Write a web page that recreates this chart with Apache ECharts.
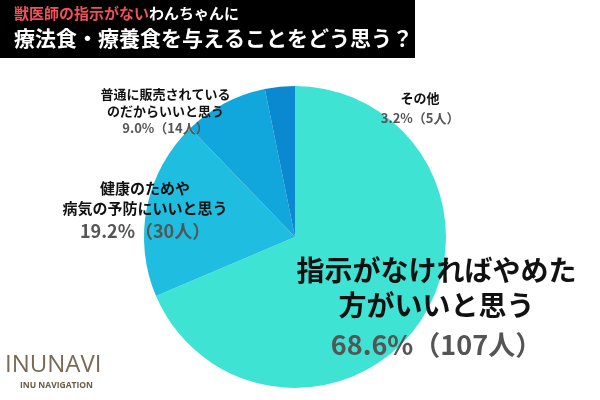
<!DOCTYPE html>
<html><head><meta charset="utf-8">
<script src="https://cdn.jsdelivr.net/npm/echarts@6/dist/echarts.min.js"></script>
<style>html,body{margin:0;padding:0;background:#fff}#c{width:600px;height:400px}</style>
</head><body><div id="c"></div>
<script>
const categories=['指示がなければやめた方がいいと思う','健康のためや病気の予防にいいと思う','普通に販売されているのだからいいと思う','その他'];
const percents=[68.6,19.2,9.0,3.2];
const counts=[107,30,14,5];
const colors=['#3fe3d4','#1fbde0','#11a6dc','#0a88d0'];
const lines=[['指示がなければやめた','方がいいと思う'],['健康のためや','病気の予防にいいと思う'],['普通に販売されている','のだからいいと思う'],['その他']];
const styles=[
 {n:28,p:27,offset:[76,29],lh:[35,42]},
 {n:15,p:18,offset:[-73,-10],lh:[20,26]},
 {n:13,p:13,offset:[-93,-56],lh:[17,18]},
 {n:13,p:13,offset:[133,-49],lh:[17,24]}
];
const font='"Noto Sans CJK JP","Noto Sans",sans-serif';
const data=categories.map((c,i)=>{const s=styles[i];return {name:c,value:percents[i],itemStyle:{color:colors[i]},
 label:{show:true,position:'inside',offset:s.offset,
  formatter:lines[i].map(l=>'{n|'+l+'}').join('\n')+'\n{p|'+percents[i].toFixed(1)+'%（'+counts[i]+'人）}',
  rich:{n:{fontSize:s.n,fontWeight:'bold',color:'#111',fontFamily:font,lineHeight:s.lh[0]},
        p:{fontSize:s.p,fontWeight:'bold',color:'#555',fontFamily:font,lineHeight:s.lh[1]}}}};});
const chart=echarts.init(document.getElementById('c'));
chart.setOption({
 animation:false,
 series:[{type:'pie',center:[295,237],radius:[0,151],startAngle:90,clockwise:true,
  itemStyle:{borderWidth:0},labelLine:{show:false},data:data}],
 graphic:[
  {type:'rect',shape:{x:0,y:0,width:415,height:58},style:{fill:'#000'}},
  {type:'text',left:14,top:6,style:{rich:{r:{fill:'#f0505a',fontSize:15,fontWeight:'bold',fontFamily:font},w:{fill:'#fff',fontSize:15,fontWeight:'bold',fontFamily:font}},text:'{r|獣医師の指示がない}{w|わんちゃんに}'}},
  {type:'text',left:14,top:28,style:{text:'療法食・療養食を与えることをどう思う？',fill:'#fff',fontSize:21,fontWeight:'bold',fontFamily:font}},
  {type:'line',shape:{x1:290,y1:127,x2:360,y2:127},style:{stroke:'#333',lineWidth:1}},
  {type:'text',left:5,top:353,style:{text:'INUNAVI',fill:'#7a6a55',fontSize:24,fontFamily:'"Open Sans",sans-serif',letterSpacing:1}},
  {type:'text',left:20,top:381,style:{text:'INU NAVIGATION',fill:'#6b5a45',fontSize:8.5,fontWeight:'bold',fontFamily:'"Open Sans",sans-serif'}}
 ]
});
</script></body></html>
